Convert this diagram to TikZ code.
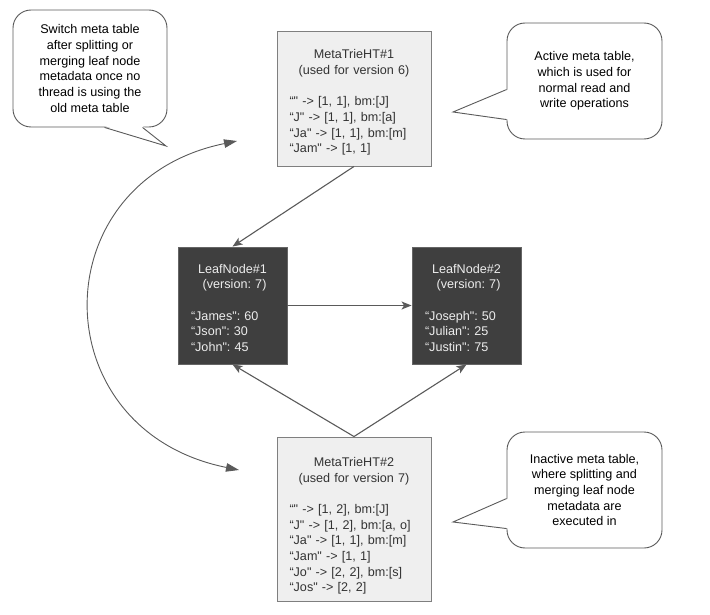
\documentclass[tikz,border=0pt]{standalone}
\usepackage{fontspec}
\newfontfamily\lucid{Liberation Sans}
\usetikzlibrary{shapes,arrows.meta}

\definecolor{boxline}{HTML}{7F7F7F}
\definecolor{metafill}{HTML}{EFEFEF}
\definecolor{leaffill}{HTML}{3F3F3F}
\definecolor{linkgray}{HTML}{5A5A5A}
\definecolor{metatext}{HTML}{333333}

\tikzset{
	every node/.style={font=\lucid\fontsize{12.6}{15.7}\selectfont\frenchspacing},
	metabox/.style={draw=boxline, fill=metafill, text=metatext, line width=0.9pt,
		text width=129pt, inner xsep=12.5pt, inner ysep=0pt, align=left},
	leafbox/.style={draw=leaffill!80!white, fill=leaffill, text=white!93!black, line width=0.9pt,
		text width=83pt, inner xsep=13pt, inner ysep=0pt, minimum height=117pt, align=left},
	note/.style={draw=linkgray, fill=white, line width=0.9pt, rounded corners=18pt,
		minimum width=154pt, minimum height=117pt, align=center, text=black},
	tail/.style={draw=linkgray, line width=0.9pt, line join=miter},
	link/.style={draw=linkgray, line width=1.1pt, -{Stealth[length=10pt,width=8pt,inset=2.5pt]}},
	swap/.style={draw=linkgray, line width=0.9pt,
		{Triangle[length=13pt,width=8.5pt]}-{Triangle[length=13pt,width=8.5pt]}}
}

\begin{document}
\begin{tikzpicture}[x=1pt, y=-1pt]
		\useasboundingbox (0,0) rectangle (710,615);
		\def\title#1#2#3{\rule{0pt}{#1}\makebox[\linewidth]{#2}\\\makebox[\linewidth]{#3}\\[15.7pt]} % strut, centred head, then an empty line
		
		% meta tables
		\node[metabox, minimum height=135pt] (meta1) at (354,98.5)
		{\title{17pt}{MetaTrieHT\#1}{(used for version 6)}
			“" -> [1, 1], bm:[J]\\
			“J" -> [1, 1], bm:[a]\\
			“Ja" -> [1, 1], bm:[m]\\
			“Jam" -> [1, 1]};
		\node[metabox, minimum height=164pt] (meta2) at (354,519)
		{\title{23pt}{MetaTrieHT\#2}{(used for version 7)}
			“" -> [1, 2], bm:[J]\\
			“J" -> [1, 2], bm:[a, o]\\
			“Ja" -> [1, 1], bm:[m]\\
			“Jam" -> [1, 1]\\
			“Jo" -> [2, 2], bm:[s]\\
			“Jos" -> [2, 2]};
		
		% leaf nodes
		\node[leafbox] (leaf1) at (232.5,305.5)
		{\title{14pt}{LeafNode\#1}{\ (version: 7)}
			“James": 60\\
			“Json": 30\\
			“John": 45};
		\node[leafbox] (leaf2) at (466.5,305.5)
		{\title{14pt}{LeafNode\#2}{\ (version: 7)}
			“Joseph": 50\\
			“Julian": 25\\
			“Justin": 75};
		
		\draw[link] (meta1.south) -- (leaf1.north);
		\draw[link] (leaf1.east) -- (leaf2.west);
		\draw[link] (meta2.north) -- (leaf1.south);
		\draw[link] (meta2.north) -- (leaf2.south);
		
		% switching between the two tables
		\coordinate (oldend) at (237,141);
		\coordinate (newend) at (239,470);
		\draw[swap] (oldend) .. controls (41,181) and (41,430) .. (newend);
		
		% callouts
		\node[note] (note1) at (90,68.5)
		{Switch meta table\\after splitting or\\merging leaf node\\metadata once no\\thread is using the\\old meta table};
		\node[note, minimum width=155pt, minimum height=116pt] (note2) at (584.5,81)
		{Active meta table,\\which is used for\\normal read and\\write operations};
		\node[note, minimum width=155pt, minimum height=116pt] (note3) at (584.5,490)
		{Inactive meta table,\\where splitting and\\merging leaf node\\metadata are\\executed in};
		
		\coordinate (tip1) at (166,146);
		\coordinate (tip2) at (453,112);
		\coordinate (tip3) at (453,522);
		\fill[white] ([xshift=92pt,yshift=1.5pt]note1.south west) -- (tip1) -- ([xshift=130pt,yshift=1.5pt]note1.south west) -- cycle;
		\draw[tail] ([xshift=92pt]note1.south west) -- (tip1) -- ([xshift=130pt]note1.south west);
		\foreach \n in {2,3}
		{
			\fill[white] ([xshift=1.5pt,yshift=-67pt]note\n.north west) -- (tip\n) -- ([xshift=1.5pt,yshift=-97pt]note\n.north west) -- cycle;
			\draw[tail] ([yshift=-67pt]note\n.north west) -- (tip\n) -- ([yshift=-97pt]note\n.north west);
		}
\end{tikzpicture}
\end{document}
